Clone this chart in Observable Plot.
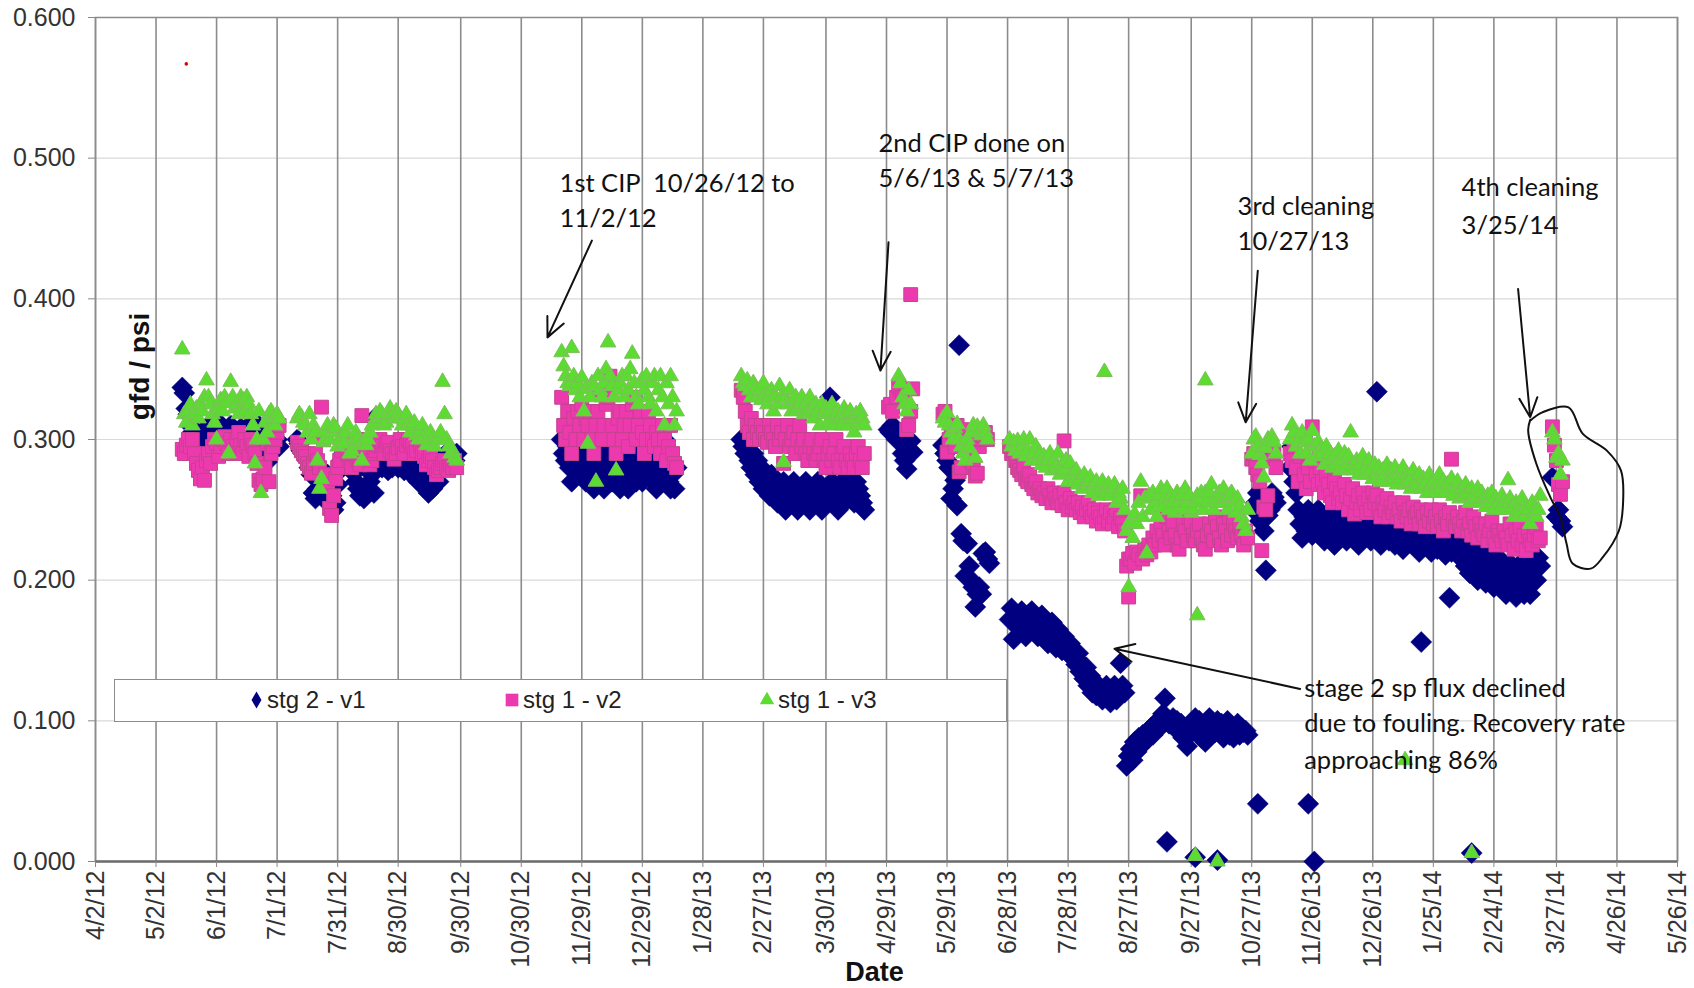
<!DOCTYPE html>
<html><head><meta charset="utf-8">
<script src="https://cdn.jsdelivr.net/npm/d3@7"></script>
<script src="https://cdn.jsdelivr.net/npm/@observablehq/plot@0.6"></script>
<style>
html,body{margin:0;padding:0;background:#fff;}
#wrap{position:relative;width:1694px;height:988px;overflow:hidden;}
#wrap svg{display:block;}
#legend{position:absolute;left:114px;top:679px;width:893px;height:43px;box-sizing:border-box;border:1.5px solid #8c8c8c;background:#fff;}
</style></head><body><div id="wrap"></div>
<script>
// ---------- axis ticks ----------
const xTickLabels = ["4/2/12","5/2/12","6/1/12","7/1/12","7/31/12","8/30/12","9/30/12","10/30/12","11/29/12","12/29/12","1/28/13","2/27/13","3/30/13","4/29/13","5/29/13","6/28/13","7/28/13","8/27/13","9/27/13","10/27/13","11/26/13","12/26/13","1/25/14","2/24/14","3/27/14","4/26/14","5/26/14"];
const yTicks = [0, 0.1, 0.2, 0.3, 0.4, 0.5, 0.6];

// ---------- series: daily readings per run [start date, values...] ----------
const stg2Runs = [
 ["5/15/12",[.337,.333,.322,.318,.31,.305,.298,.30,.295,.29,.287,.30,.306,.31,.305,.30,.31,.305,.312,.305,.30,.296,.302,.30,.31,.305,.296,.30,.305,.308,.30,.295,.305,.31,.30,.296,.31,.305,.31,.30,.29,.30,.284,.29,.296,.30,.31,.30,.295]],
 ["7/11/12",[.30,.297,.292,.29,.288,.285,.28,.275,.262,.258,.265,.27,.262,.258,.265,.275,.27,.26,.25,.255,.268,.278,.285,.29,.296,.29,.286,.28,.276,.27,.265,.26,.262,.258,.265,.262,.27,.275,.262,.316,.28,.283,.28,.285,.282,.278,.284,.28,.286,.283,.28,.285,.282,.278,.28,.284,.276,.28,.277,.283,.27,.275,.268,.272,.265,.262,.27,.265,.268,.275,.27,.278,.28,.285,.29,.292,.288,.29,.285,.29]],
 ["11/19/12",[.30,.29,.285,.295,.28,.27,.28,.29,.285,.275,.28,.29,.27,.28,.275,.285,.265,.275,.27,.28,.29,.265,.27,.28,.295,.27,.275,.285,.27,.265,.28,.29,.27,.265,.28,.29,.275,.27,.28,.295,.27,.275,.285,.30,.29,.28,.27,.265,.275,.285,.295,.30,.28,.27,.265,.275,.265,.28]],
 ["2/16/13",[.30,.295,.29,.298,.285,.28,.29,.275,.285,.27,.28,.265,.275,.27,.26,.275,.265,.27,.255,.265,.26,.27,.25,.26,.265,.255,.27,.26,.25,.265,.255,.26,.27,.255,.25,.26,.265,.255,.27,.26,.25,.265,.255,.26,.33,.27,.255,.26,.25,.265,.27,.255,.26,.265,.27,.26,.255,.27,.265,.26,.255,.25]],
 ["4/30/13",[.307,.305,.31,null,.30,.302,.298,.29,.285,.279,.29,.299,.291]],
 ["5/27/13",[.296,.29,.285,.28,.258,.265,.271,.253,.367,.233,.228,.203,.226,.21,.20,.195,.181,.19,.195,.19,.219,.22,.215,.212]],
 ["6/29/13",[.172,.18,
   .158,.175,.17,.165,.178,.17,.16,.175,.168,.178,.165,.172,.16,.168,.175,.162,.17,.155,.165,.17,.16,.152,.165,.158,.15,.16,.155,.148,.155,.145,.15,
   .14,.148,.135,.14,.13,.138,.125,.132,.12,.128,.118,.125,.122,.115,.12,.125,.118,.113,.12,.125,.115,.118,.141,.125,.12,.068,.075,.08,.072,.085,.078,
   .088,.082,.09,.085,.092,.088,.095,.09,.098,.094,.10,.096,.105,.116,.10,.098,.098,.102,.095,.10,.092,.098,.088,.095,.082,.09,.098,.094,.102,.095,
   .10,.088,.094,.085,.098,.102,.09,.096,.092,.10,.092,.098,.088,.095,.10,.09,.096,.088,.094,.098,.09,.095,.092,.093,.09]],
 ["10/28/13",[.25,.255,.262,.242,.26,.235,.207,.246,.25,.262,.259,.255]],
 ["11/15/13",[.28,.295,.27,.262,.25,.24,.23,.245,.235,.25,.24,.232,.245,.238,.25,.242,
   .235,.228,.245,.24,.232,.248,.225,.236,.242,.23,.245,.238,.228,.24,.235,.245,.23,.238,.225,.242,.236,.23,.245,.24,.228,.235,.242,.232,.238,.225,.235,
   .232,.24,.228,.235,.245,.225,.238,.23,.242,.222,.235,.228,.24,.232,.225,.238,.23,.22,.235,.228,.24,.225,.232,.22,.236,.228,.222,.235,.23,.225,.218,
   .232,.225,.22,.235,.228,.222,.23,.215,.225,.21,.22,.205,.215,.225,.21,.20,.218,.205,.212,.198,.21,.22,.205,.195,.21,.20,.215,.205,
   .198,.19,.205,.212,.195,.20,.188,.21,.195,.205,.19,.20,.215,.19,.205,.21,.20,.216,.21]],
 ["3/25/14",[.273,null,.245,.25,.242,.238]]
];
const stg2Extra = [["9/15/13",.014],["9/29/13",.003],["10/10/13",.001],["10/30/13",.041],["11/24/13",.041],["11/27/13",0],["12/28/13",.334],["1/19/14",.156],["2/2/14",.1875],["2/13/14",.006]];

const v2Runs = [
 ["5/15/12",[.293,.29,.296,.30,.295,.30,.29,.283,.278,.272,.28,.271,.285,.29,.283,.295,.30,.297,.288,.295,.30,.302,.297,.29,.30,.295,.292,.30,.305,.296,.29,.30,.295,.288,.30,.296,.29,.283,.271,.268,.272,.28,.297,.27,.29,.295,.30,.305,.31]],
 ["7/11/12",[.298,.295,.292,.29,.288,.283,.28,.276,.283,.29,.285,.28,.323,.30,.275,.268,.251,.246,.26,.272,.28,.285,.292,.296,.30,.29,.285,.28,.29,.295,.285,.282,.317,.30,.29,.288,.282,.285,.29,.292,.296,.30,.295,.29,.296,.298,.292,.29,.286,.29,.294,.30,.295,.29,.296,.30,.298,.295,.29,.292,.30,.296,.29,.288,.282,.285,.288,.285,.28,.275,.278,.28,.283,.285,.28,.278,.282,.28,.285,.28]],
 ["11/19/12",[.33,.31,.30,.32,.305,.29,.315,.30,.32,.31,.325,.30,.315,.31,.32,.30,.29,.31,.32,.335,.30,.31,.325,.33,.345,.31,.30,.29,.315,.32,.30,.31,.32,.295,.31,.325,.33,.30,.31,.32,.305,.29,.30,.32,.31,.30,.295,.305,.30,.29,.31,.30,.285,.295,.31,.29,.283,.28]],
 ["2/16/13",[.335,.33,.32,.31,.305,.315,.30,.31,.305,.30,.31,.305,.30,.298,.31,.305,.30,.295,.31,.30,.305,.283,.30,.31,.295,.30,.305,.29,.30,.31,.295,.30,.29,.285,.295,.30,.29,.285,.29,.295,.30,.285,.28,.29,.295,.285,.29,.30,.285,.28,.29,.295,.285,.28,.29,.285,.28,.29,.295,.285,.28,.29]],
 ["4/30/13",[.323,.325,.32,null,.33,.338,.335,.33,.33,.307,.31,.32,.336]],
 ["5/27/13",[.318,.32,.291,.30,.31,.305,.295,.31,.277,.28,.30,.305,.307,.30,.285,.28,.274,.276,.295,.30,.303,.305,.30]],
 ["6/29/13",[.295,.29,
   .292,.285,.28,.278,.275,.28,.272,.27,.275,.268,.265,.27,.262,.265,.26,.262,.258,.265,.26,.255,.262,.258,.255,.26,.253,.262,.255,.25,.258,.252,.255,
   .25,.255,.248,.252,.245,.25,.255,.248,.245,.25,.242,.248,.245,.24,.245,.25,.242,.248,.24,.245,.25,.238,.244,.24,.235,.21,.215,.215,.219,.212,.22,
   .218,.26,.215,.222,.218,.225,.22,.23,.225,.235,.228,.24,.232,.225,.245,.235,.23,.24,.232,.225,.222,.23,.24,.235,.228,.245,.24,.232,.228,.235,
   .24,.23,.225,.222,.232,.24,.235,.228,.245,.238,.23,.225,.24,.235,.228,.245,.232,.24,.235,.23,.238,.232,.225,.235,.23]],
 ["10/27/13",[.286,.29,.28,.275,.27,.221,.252,.25,.26,.29,.285,.29,.28]],
 ["11/15/13",[.29,.285,.295,.28,.27,.288,.30,.275,.265,.28,.27,.309,.285,.275,.268,.28,
   .27,.262,.275,.268,.26,.255,.27,.265,.258,.262,.255,.268,.26,.25,.258,.265,.247,.255,.26,.25,.262,.255,.248,.258,.25,.262,.255,.26,.25,.245,.255,
   .25,.258,.245,.252,.248,.255,.245,.25,.242,.255,.248,.245,.25,.24,.252,.245,.248,.24,.25,.245,.238,.248,.242,.25,.24,.245,.238,.25,.242,.235,.245,
   .24,.248,.286,.242,.238,.245,.24,.235,.242,.248,.235,.24,.232,.245,.238,.23,.24,.235,.232,.24,.228,.235,.242,.23,.225,.235,.232,.228,
   .235,.23,.225,.24,.232,.222,.235,.228,.238,.225,.232,.221,.235,.228,.225,.232,.238,.228,.23]],
 ["3/25/14",[.309,.296,.285,.268,.261,.27]]
];
const v2Extra = [["5/11/13",.403],["7/26/13",.299],["8/27/13",.188]];

const v3Runs = [
 ["5/15/12",[.364,.318,.312,.32,.325,.31,.318,.322,.315,.325,.32,.33,.342,.33,.325,.318,.312,.30,.322,.328,.32,.33,.326,.29,.341,.33,.322,.325,.318,.33,.328,.32,.33,.325,.318,.31,.283,.30,.32,.262,.30,.312,.305,.318,.32,.315,.31,.318,.315]],
 ["7/11/12",[.315,.318,.316,.312,.31,.305,.318,.30,.31,.305,.285,.265,.272,.298,.306,.31,.30,.305,.31,.308,.295,.30,.302,.297,.305,.31,.29,.292,.30,.305,.30,.296,.285,.298,.296,.30,.305,.31,.312,.318,.315,.32,.318,.31,.312,.318,.322,.318,.315,.32,.318,.315,.31,.314,.318,.31,.305,.31,.312,.303,.30,.305,.31,.302,.296,.30,.305,.30,.295,.30,.30,.305,.341,.318,.30,.295,.29,.292,.287,.285]],
 ["11/19/12",[.362,.352,.345,.34,.338,.365,.345,.335,.34,.33,.344,.32,.336,.297,.33,.34,.338,.27,.345,.335,.33,.34,.35,.369,.345,.338,.33,.278,.335,.34,.345,.33,.345,.335,.35,.361,.34,.33,.325,.34,.343,.335,.345,.33,.325,.34,.345,.32,.335,.345,.33,.31,.34,.325,.345,.33,.31,.32]],
 ["2/16/13",[.345,.34,.338,.342,.335,.33,.34,.336,.33,.335,.328,.34,.332,.325,.33,.335,.32,.33,.325,.338,.33,.284,.33,.325,.335,.32,.328,.33,.322,.325,.33,.318,.325,.32,.33,.322,.315,.325,.32,.31,.325,.318,.322,.312,.32,.325,.31,.318,.32,.315,.31,.322,.318,.31,.32,.315,.305,.318,.312,.32,.315,.31]],
 ["5/5/13",[.345,.34,.33,.325,.32,.335,.325]],
 ["5/27/13",[.315,.312,.319,.31,.305,.30,.308,.311,.30,.295,.29,.285,.30,.294,.305,.31,.287,.309,.305,.303,.31,.305,.30]],
 ["6/29/13",[.30,.295,
   .298,.292,.299,.29,.295,.30,.288,.292,.30,.285,.29,.295,.285,.29,.282,.288,.28,.285,.29,.278,.285,.28,.29,.275,.282,.278,.285,.27,.283,.275,.27,
   .278,.268,.272,.265,.275,.268,.27,.273,.262,.268,.27,.26,.265,.27,.262,.262,.268,.26,.265,.268,.255,.262,.258,.265,.25,.235,.24,.24,.23,.247,.24,
   .255,.27,.245,.258,.219,.26,.25,.262,.255,.245,.26,.265,.252,.258,.265,.25,.26,.255,.248,.262,.255,.26,.25,.265,.255,.26,.248,.25,.255,.26,
   .258,.262,.25,.262,.255,.262,.268,.25,.258,.255,.262,.255,.265,.258,.25,.26,.262,.255,.248,.258,.252,.245,.24,.235,.25]],
 ["10/27/13",[.29,.30,.302,.295,.289,.283,.273,.294,.30,.299,.302,.298,.29]],
 ["11/15/13",[.30,.31,.305,.295,.298,.29,.305,.298,.29,.30,.285,.306,.295,.288,.298,.292,
   .29,.282,.295,.285,.29,.28,.288,.282,.292,.278,.285,.29,.28,.288,.305,.282,.278,.285,.275,.282,.288,.275,.28,.285,.278,.272,.282,.275,.28,.27,.278,
   .275,.282,.27,.278,.272,.28,.268,.275,.272,.28,.268,.275,.27,.265,.278,.27,.268,.275,.265,.272,.268,.262,.275,.268,.27,.262,.268,.275,.265,.27,.262,
   .268,.262,.272,.26,.265,.27,.258,.265,.26,.268,.262,.255,.265,.26,.258,.265,.255,.262,.258,.252,.26,.255,.262,.25,.258,.255,.25,.26,
   .255,.25,.271,.258,.252,.245,.255,.25,.248,.258,.245,.252,.25,.24,.255,.248,.245,.25,.26]],
 ["3/25/14",[.305,.30,.287,.29,.275,.285]]
];
const v3Extra = [["8/15/13",.348],["8/27/13",.195],["9/29/13",.004],["9/30/13",.175],["10/4/13",.342],["10/10/13",0],["1/11/14",.072],["2/13/14",.006]];

const redPoint = [["5/17/12",.567]];

// ---------- annotations ----------
const notes = [
 {at:"11/18/12", v:.4888, text:"1st CIP\u00a0 10/26/12 to"},
 {at:"11/18/12", v:.4639, text:"11/2/12"},
 {at:"4/25/13", v:.5172, text:"2nd CIP done on"},
 {at:"4/25/13", v:.4923, text:"5/6/13 & 5/7/13"},
 {at:"10/20/13", v:.4726, text:"3rd cleaning"},
 {at:"10/20/13", v:.4473, text:"10/27/13"},
 {at:"2/8/14", v:.4861, text:"4th cleaning"},
 {at:"2/8/14", v:.4591, text:"3/25/14"},
 {at:"11/22/13", v:.1301, text:"stage 2 sp flux declined"},
 {at:"11/22/13", v:.1050, text:"due to fouling. Recovery rate"},
 {at:"11/22/13", v:.0789, text:"approaching 86%"}
];
const arrows = [
 {from:"12/4/12", v1:.4414, to:"11/12/12", v2:.3726},
 {from:"4/30/13", v1:.4402, to:"4/26/13", v2:.349},
 {from:"10/30/13", v1:.42, to:"10/24/13", v2:.3122},
 {from:"3/8/14", v1:.407, to:"3/14/14", v2:.3158},
 {from:"11/20/13", v1:.1227, to:"8/20/13", v2:.1512}
];
const loopDates = ["3/14/14","3/20/14","4/2/14","4/9/14","4/21/14","4/28/14","4/29/14","4/27/14","4/19/14","4/13/14","4/4/14","4/1/14","3/29/14","3/24/14","3/17/14","3/13/14","3/14/14"];
const loopVals = [.3134,.3193,.3229,.3042,.2921,.2779,.2544,.2353,.2163,.2082,.2118,.2260,.2447,.2589,.2829,.3063,.3140];

// ---------- build ----------
const parse = d3.timeParse("%m/%d/%y");
function expand(runs, extras) {
  const out = [];
  for (const [start, vals] of runs) {
    const t0 = parse(start);
    vals.forEach((v, i) => { if (v != null) out.push({date: d3.timeDay.offset(t0, i), v}); });
  }
  for (const [d, v] of extras) out.push({date: parse(d), v});
  return out;
}
const stg2 = expand(stg2Runs, stg2Extra);
const v2 = expand(v2Runs, v2Extra);
const v3 = expand(v3Runs, v3Extra);
const red = redPoint.map(([d, v]) => ({date: parse(d), v}));
const tickDates = xTickLabels.map(parse);
const loop = loopDates.map((d, i) => ({date: parse(d), v: loopVals[i]}));

const NAVY = "#000080", PINK = "#ec3aae", GREEN = "#5cdc30";
const ANN_FONT = "Lato, 'Open Sans', sans-serif";

const chart = Plot.plot({
  width: 1694, height: 988,
  marginLeft: 95, marginRight: 17, marginTop: 17, marginBottom: 127,
  style: {fontFamily: "'Liberation Sans', Arial, sans-serif", fontSize: "25px", background: "#fff", color: "#333"},
  x: {type: "time", domain: [tickDates[0], tickDates[tickDates.length - 1]]},
  y: {domain: [0, 0.6]},
  marks: [
    Plot.gridY(yTicks, {stroke: "#d9d9d9", strokeOpacity: 1, strokeWidth: 1.2}),
    Plot.gridX(tickDates, {stroke: "#8c8c8c", strokeOpacity: 1, strokeWidth: 1.6}),
    Plot.frame({stroke: "#8c8c8c", strokeWidth: 1.5}),
    Plot.ruleY([0], {stroke: "#6e6e6e", strokeWidth: 2.5}),
    Plot.axisY({ticks: yTicks, tickFormat: d3.format(".3f"), tickSize: 7, tickPadding: 13, fontSize: 25, stroke: "#888", fill: "#333", label: null}),
    Plot.axisX({ticks: tickDates, tickFormat: d3.timeFormat("%-m/%-d/%y"), tickRotate: -90, tickSize: 6, tickPadding: 3, fontSize: 25, stroke: "#888", fill: "#333", label: null}),
    Plot.dot(stg2, {x: "date", y: "v", symbol: "diamond2", r: 9.5, fill: NAVY, stroke: NAVY, strokeWidth: 0.5}),
    Plot.dot(v2, {x: "date", y: "v", symbol: "square", r: 7.8, fill: PINK, stroke: "#c4438f", strokeWidth: 1}),
    Plot.dot(v3, {x: "date", y: "v", symbol: "triangle", r: 5.8, fill: GREEN, stroke: "#7cbf5a", strokeWidth: 1}),
    Plot.dot(red, {x: "date", y: "v", r: 1.8, fill: "#e00000"}),
    Plot.arrow(arrows, {x1: d => parse(d.from), y1: "v1", x2: d => parse(d.to), y2: "v2", stroke: "#111", strokeWidth: 2, headLength: 16, headAngle: 50}),
    Plot.line(loop, {x: "date", y: "v", curve: "catmull-rom", stroke: "#111", strokeWidth: 2}),
    Plot.text(notes, {x: d => parse(d.at), y: "v", text: "text", textAnchor: "start", lineAnchor: "top", fontSize: 25.5, fill: "#111", fontFamily: ANN_FONT}),
    Plot.text(["gfd / psi"], {frameAnchor: "left", textAnchor: "middle", lineAnchor: "middle", dx: 45, dy: -73, rotate: -90, fontSize: 28, fontWeight: "bold", fill: "#111"}),
    Plot.text(["Date"], {frameAnchor: "bottom", textAnchor: "middle", lineAnchor: "middle", dx: -12, dy: 111, fontSize: 27, fontWeight: "bold", fill: "#111"})
  ]
});
const wrap = document.getElementById("wrap");
wrap.appendChild(chart);

// ---------- legend (overlaid inside the plot area, as in the reference) ----------
const legendItems = [
  {label: "stg 2 - v1", shape: d3.symbolDiamond, size: 85, color: NAVY, mx: 141.5, tx: 152},
  {label: "stg 1 - v2", shape: d3.symbolSquare, size: 160, color: PINK, mx: 397, tx: 408},
  {label: "stg 1 - v3", shape: d3.symbolTriangle, size: 90, color: GREEN, mx: 652, tx: 663}
];
const lg = d3.select(wrap).append("div").attr("id", "legend");
const ls = lg.append("svg").attr("width", 890).attr("height", 40).style("display", "block");
for (const it of legendItems) {
  ls.append("path").attr("d", d3.symbol(it.shape, it.size)()).attr("transform", `translate(${it.mx},20)`).attr("fill", it.color);
  ls.append("text").attr("x", it.tx).attr("y", 20).attr("dy", "0.35em")
    .attr("font-family", "'Liberation Sans', Arial, sans-serif").attr("font-size", 24).attr("fill", "#222").text(it.label);
}
</script></body></html>
